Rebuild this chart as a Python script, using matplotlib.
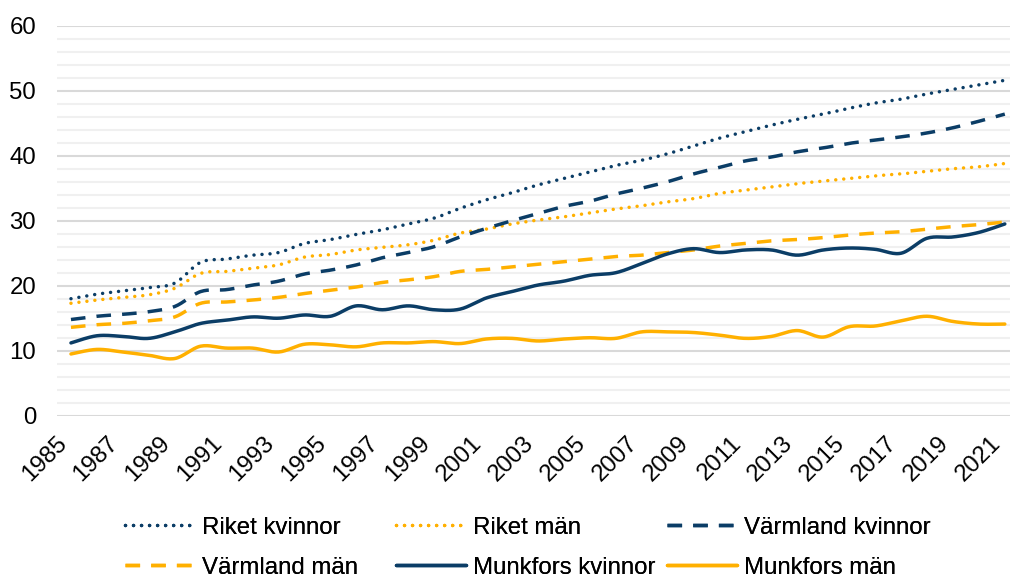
import matplotlib
matplotlib.use("Agg")
import matplotlib.pyplot as plt
import matplotlib.transforms as mtransforms
import numpy as np

plt.rcParams['font.family'] = ['Liberation Sans', 'DejaVu Sans']

### Data

years = list(range(1985, 2022))

riket_kvinnor = [18.0, 18.7, 19.2, 19.7, 20.4, 23.6, 24.1, 24.7, 25.1, 26.5, 27.1, 27.9,
                 28.6, 29.5, 30.4, 31.9, 33.2, 34.3, 35.5, 36.5, 37.5, 38.5, 39.3, 40.3,
                 41.5, 42.7, 43.7, 44.7, 45.6, 46.4, 47.3, 48.1, 48.7, 49.5, 50.2, 50.9, 51.6]
riket_man = [17.3, 17.8, 18.2, 18.6, 19.6, 21.9, 22.2, 22.7, 23.2, 24.4, 24.8, 25.5,
             25.9, 26.3, 27.0, 28.1, 28.7, 29.5, 30.1, 30.6, 31.2, 31.8, 32.3, 32.9,
             33.4, 34.2, 34.7, 35.2, 35.7, 36.1, 36.5, 36.9, 37.2, 37.6, 38.0, 38.3, 38.8]
varmland_kvinnor = [14.8, 15.3, 15.6, 16.0, 16.8, 19.1, 19.4, 20.1, 20.7, 21.8, 22.4, 23.2,
                    24.3, 25.1, 26.0, 27.5, 28.8, 30.0, 31.1, 32.2, 33.0, 34.1, 35.0, 36.0,
                    37.2, 38.2, 39.2, 39.8, 40.6, 41.2, 41.9, 42.4, 42.9, 43.5, 44.3, 45.3, 46.4]
varmland_man = [13.6, 14.0, 14.2, 14.6, 15.2, 17.3, 17.5, 17.8, 18.2, 18.8, 19.3, 19.8,
                20.5, 20.9, 21.4, 22.2, 22.5, 22.9, 23.3, 23.7, 24.1, 24.5, 24.7, 25.1,
                25.5, 26.1, 26.5, 26.9, 27.1, 27.4, 27.8, 28.1, 28.3, 28.7, 29.1, 29.4, 29.8]
munkfors_kvinnor = [11.2, 12.3, 12.2, 11.9, 12.9, 14.2, 14.7, 15.2, 15.0, 15.5, 15.3, 16.9,
                    16.3, 16.9, 16.3, 16.4, 18.1, 19.1, 20.1, 20.7, 21.6, 22.0, 23.4, 24.9,
                    25.7, 25.1, 25.5, 25.5, 24.7, 25.5, 25.8, 25.6, 25.0, 27.3, 27.5, 28.2, 29.5]
munkfors_man = [9.5, 10.2, 9.8, 9.3, 8.8, 10.7, 10.4, 10.4, 9.8, 11.0, 10.9, 10.6,
                11.2, 11.2, 11.4, 11.1, 11.8, 11.9, 11.5, 11.8, 12.0, 11.9, 12.9, 12.9,
                12.8, 12.4, 11.9, 12.2, 13.1, 12.1, 13.7, 13.8, 14.6, 15.3, 14.5, 14.1, 14.1]

series_names = ['Riket kvinnor', 'Riket män', 'Värmland kvinnor',
                'Värmland män', 'Munkfors kvinnor', 'Munkfors män']
series_values = [riket_kvinnor, riket_man, varmland_kvinnor,
                 varmland_man, munkfors_kvinnor, munkfors_man]

navy = '#0B3D66'
gold = '#FFB000'
styles = [
    dict(color=navy, linestyle=(0, (0.01, 2.3)), dash_capstyle='round'),
    dict(color=gold, linestyle=(0, (0.01, 2.3)), dash_capstyle='round'),
    dict(color=navy, linestyle=(0, (4.2, 3.2)), dash_capstyle='butt'),
    dict(color=gold, linestyle=(0, (4.2, 3.2)), dash_capstyle='butt'),
    dict(color=navy, linestyle='-'),
    dict(color=gold, linestyle='-'),
]


def smooth(x, y, n=16):
    # Catmull-Rom curve through the points, like Excel's smoothed line
    p = np.column_stack([x, y]).astype(float)
    p = np.vstack([p[0], p, p[-1]])
    t = np.linspace(0, 1, n, endpoint=False)[:, None]
    out = []
    for i in range(1, len(p) - 2):
        p0, p1, p2, p3 = p[i - 1], p[i], p[i + 1], p[i + 2]
        seg = 0.5 * ((2 * p1) + (-p0 + p2) * t + (2 * p0 - 5 * p1 + 4 * p2 - p3) * t ** 2
                     + (-p0 + 3 * p1 - 3 * p2 + p3) * t ** 3)
        out.append(seg)
    out.append(p[-2][None, :])
    out = np.vstack(out)
    return out[:, 0], out[:, 1]


### Figure

fig = plt.figure(figsize=(10.1, 5.79), dpi=100)
ax = fig.add_axes([0.0564, 0.282, 0.9436, 0.6736])

handles = []
for name, vals, st in zip(series_names, series_values, styles):
    sx, sy = smooth(years, vals)
    h, = ax.plot(sx, sy, linewidth=2.5, label=name, solid_capstyle='round', **st)
    handles.append(h)

ax.set_xlim(1984.46, 2021.2)
ax.set_ylim(0, 60)

ax.set_yticks(range(0, 61, 10))
ax.set_yticks(range(0, 61, 2), minor=True)
ax.yaxis.grid(True, which='major', color='#d9d9d9', linewidth=1.5, zorder=0)
ax.yaxis.grid(True, which='minor', color='#f0f0f0', linewidth=1.5, zorder=0)
ax.set_axisbelow(True)

ax.set_xticks(years[::2])
ax.set_xticklabels([str(y) for y in years[::2]], rotation=45, ha='right')
offset = mtransforms.ScaledTranslation(4 / 100, 0, fig.dpi_scale_trans)
for lab in ax.get_xticklabels():
    lab.set_transform(lab.get_transform() + offset)

ax.tick_params(axis='both', which='both', length=0, labelsize=17.3, colors='black')
ax.tick_params(axis='y', pad=15)
ax.tick_params(axis='x', pad=12)

for s in ax.spines.values():
    s.set_visible(False)

# Legend, three fixed-width columns like the original
columns = [(0, 3), (1, 4), (2, 5)]
col_x = [0.1238, 0.392, 0.6604]
for (i, j), cx in zip(columns, col_x):
    leg = fig.legend([handles[i], handles[j]], [series_names[i], series_names[j]],
                     loc='upper left', bbox_to_anchor=(cx, 0.1075),
                     frameon=False, fontsize=17.3, handlelength=2.92,
                     handletextpad=0.29, labelspacing=0.74, borderpad=0,
                     borderaxespad=0)
    fig.add_artist(leg)

fig.savefig('out.png', dpi=100)
plt.close(fig)
